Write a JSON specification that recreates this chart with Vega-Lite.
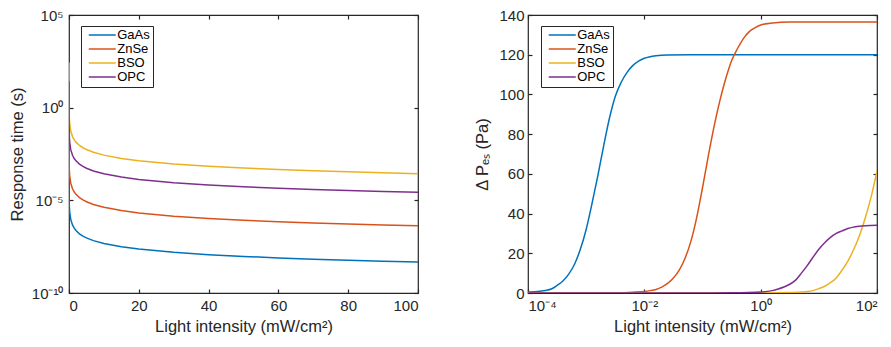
{
  "$schema": "https://vega.github.io/schema/vega-lite/v6.json",
  "padding": {"left": 8, "top": 7, "right": 5, "bottom": 5},
  "background": "white",
  "datasets": {
    "resp": [
      {"m":"GaAs","I":0.0001,"t":4.7e-3},{"m":"GaAs","I":0.0003,"t":1.567e-3},{"m":"GaAs","I":0.001,"t":4.7e-4},{"m":"GaAs","I":0.003,"t":1.567e-4},{"m":"GaAs","I":0.01,"t":4.7e-5},{"m":"GaAs","I":0.03,"t":1.567e-5},{"m":"GaAs","I":0.1,"t":4.7e-6},{"m":"GaAs","I":0.2,"t":2.35e-6},{"m":"GaAs","I":0.5,"t":9.4e-7},{"m":"GaAs","I":1,"t":4.7e-7},{"m":"GaAs","I":1.5,"t":3.13e-7},{"m":"GaAs","I":2,"t":2.35e-7},{"m":"GaAs","I":3,"t":1.567e-7},{"m":"GaAs","I":4,"t":1.175e-7},{"m":"GaAs","I":5,"t":9.4e-8},{"m":"GaAs","I":7,"t":6.71e-8},{"m":"GaAs","I":10,"t":4.7e-8},{"m":"GaAs","I":15,"t":3.13e-8},{"m":"GaAs","I":20,"t":2.35e-8},{"m":"GaAs","I":30,"t":1.567e-8},{"m":"GaAs","I":40,"t":1.175e-8},{"m":"GaAs","I":50,"t":9.4e-9},{"m":"GaAs","I":60,"t":7.83e-9},{"m":"GaAs","I":70,"t":6.71e-9},{"m":"GaAs","I":80,"t":5.88e-9},{"m":"GaAs","I":90,"t":5.22e-9},{"m":"GaAs","I":100,"t":4.7e-9},
      {"m":"ZnSe","I":0.0001,"t":0.42},{"m":"ZnSe","I":0.0003,"t":0.14},{"m":"ZnSe","I":0.001,"t":0.042},{"m":"ZnSe","I":0.003,"t":0.014},{"m":"ZnSe","I":0.01,"t":4.2e-3},{"m":"ZnSe","I":0.03,"t":1.4e-3},{"m":"ZnSe","I":0.1,"t":4.2e-4},{"m":"ZnSe","I":0.2,"t":2.1e-4},{"m":"ZnSe","I":0.5,"t":8.4e-5},{"m":"ZnSe","I":1,"t":4.2e-5},{"m":"ZnSe","I":1.5,"t":2.8e-5},{"m":"ZnSe","I":2,"t":2.1e-5},{"m":"ZnSe","I":3,"t":1.4e-5},{"m":"ZnSe","I":4,"t":1.05e-5},{"m":"ZnSe","I":5,"t":8.4e-6},{"m":"ZnSe","I":7,"t":6e-6},{"m":"ZnSe","I":10,"t":4.2e-6},{"m":"ZnSe","I":15,"t":2.8e-6},{"m":"ZnSe","I":20,"t":2.1e-6},{"m":"ZnSe","I":30,"t":1.4e-6},{"m":"ZnSe","I":40,"t":1.05e-6},{"m":"ZnSe","I":50,"t":8.4e-7},{"m":"ZnSe","I":60,"t":7e-7},{"m":"ZnSe","I":70,"t":6e-7},{"m":"ZnSe","I":80,"t":5.25e-7},{"m":"ZnSe","I":90,"t":4.67e-7},{"m":"ZnSe","I":100,"t":4.2e-7},
      {"m":"BSO","I":0.0001,"t":275},{"m":"BSO","I":0.0003,"t":91.7},{"m":"BSO","I":0.001,"t":27.5},{"m":"BSO","I":0.003,"t":9.17},{"m":"BSO","I":0.01,"t":2.75},{"m":"BSO","I":0.03,"t":0.917},{"m":"BSO","I":0.1,"t":0.275},{"m":"BSO","I":0.2,"t":0.1375},{"m":"BSO","I":0.5,"t":0.055},{"m":"BSO","I":1,"t":0.0275},{"m":"BSO","I":1.5,"t":0.01833},{"m":"BSO","I":2,"t":0.01375},{"m":"BSO","I":3,"t":9.17e-3},{"m":"BSO","I":4,"t":6.88e-3},{"m":"BSO","I":5,"t":5.5e-3},{"m":"BSO","I":7,"t":3.93e-3},{"m":"BSO","I":10,"t":2.75e-3},{"m":"BSO","I":15,"t":1.83e-3},{"m":"BSO","I":20,"t":1.375e-3},{"m":"BSO","I":30,"t":9.17e-4},{"m":"BSO","I":40,"t":6.88e-4},{"m":"BSO","I":50,"t":5.5e-4},{"m":"BSO","I":60,"t":4.58e-4},{"m":"BSO","I":70,"t":3.93e-4},{"m":"BSO","I":80,"t":3.44e-4},{"m":"BSO","I":90,"t":3.06e-4},{"m":"BSO","I":100,"t":2.75e-4},
      {"m":"OPC","I":0.0001,"t":27},{"m":"OPC","I":0.0003,"t":9},{"m":"OPC","I":0.001,"t":2.7},{"m":"OPC","I":0.003,"t":0.9},{"m":"OPC","I":0.01,"t":0.27},{"m":"OPC","I":0.03,"t":0.09},{"m":"OPC","I":0.1,"t":0.027},{"m":"OPC","I":0.2,"t":0.0135},{"m":"OPC","I":0.5,"t":5.4e-3},{"m":"OPC","I":1,"t":2.7e-3},{"m":"OPC","I":1.5,"t":1.8e-3},{"m":"OPC","I":2,"t":1.35e-3},{"m":"OPC","I":3,"t":9e-4},{"m":"OPC","I":4,"t":6.75e-4},{"m":"OPC","I":5,"t":5.4e-4},{"m":"OPC","I":7,"t":3.86e-4},{"m":"OPC","I":10,"t":2.7e-4},{"m":"OPC","I":15,"t":1.8e-4},{"m":"OPC","I":20,"t":1.35e-4},{"m":"OPC","I":30,"t":9e-5},{"m":"OPC","I":40,"t":6.75e-5},{"m":"OPC","I":50,"t":5.4e-5},{"m":"OPC","I":60,"t":4.5e-5},{"m":"OPC","I":70,"t":3.86e-5},{"m":"OPC","I":80,"t":3.38e-5},{"m":"OPC","I":90,"t":3e-5},{"m":"OPC","I":100,"t":2.7e-5}
    ],
    "pres": [
      {"m":"GaAs","I":0.0001,"p":0.5},{"m":"GaAs","I":0.000158,"p":0.9},{"m":"GaAs","I":0.0001995,"p":1.3},{"m":"GaAs","I":0.000251,"p":2.0},{"m":"GaAs","I":0.000316,"p":3.8},{"m":"GaAs","I":0.000398,"p":6.0},{"m":"GaAs","I":0.000501,"p":9.5},{"m":"GaAs","I":0.000631,"p":14.5},{"m":"GaAs","I":0.000794,"p":22},{"m":"GaAs","I":0.001,"p":32},{"m":"GaAs","I":0.001259,"p":45},{"m":"GaAs","I":0.001585,"p":59},{"m":"GaAs","I":0.001995,"p":74},{"m":"GaAs","I":0.002512,"p":88},{"m":"GaAs","I":0.003162,"p":99},{"m":"GaAs","I":0.003981,"p":106},{"m":"GaAs","I":0.005012,"p":111},{"m":"GaAs","I":0.00631,"p":114.5},{"m":"GaAs","I":0.007943,"p":116.8},{"m":"GaAs","I":0.01,"p":118.2},{"m":"GaAs","I":0.01585,"p":119.5},{"m":"GaAs","I":0.02512,"p":119.9},{"m":"GaAs","I":0.0631,"p":120},{"m":"GaAs","I":100,"p":120},
      {"m":"ZnSe","I":0.0001,"p":0},{"m":"ZnSe","I":0.001,"p":0},{"m":"ZnSe","I":0.003162,"p":0.1},{"m":"ZnSe","I":0.00631,"p":0.4},{"m":"ZnSe","I":0.01,"p":0.8},{"m":"ZnSe","I":0.01259,"p":1.2},{"m":"ZnSe","I":0.01585,"p":1.8},{"m":"ZnSe","I":0.01995,"p":3.0},{"m":"ZnSe","I":0.02512,"p":4.8},{"m":"ZnSe","I":0.03162,"p":7.5},{"m":"ZnSe","I":0.03981,"p":11.5},{"m":"ZnSe","I":0.05012,"p":17.5},{"m":"ZnSe","I":0.0631,"p":26},{"m":"ZnSe","I":0.07943,"p":38},{"m":"ZnSe","I":0.1,"p":53},{"m":"ZnSe","I":0.1259,"p":69},{"m":"ZnSe","I":0.1585,"p":84},{"m":"ZnSe","I":0.1995,"p":97},{"m":"ZnSe","I":0.2512,"p":108},{"m":"ZnSe","I":0.3162,"p":117},{"m":"ZnSe","I":0.3981,"p":123},{"m":"ZnSe","I":0.5012,"p":128},{"m":"ZnSe","I":0.631,"p":131.5},{"m":"ZnSe","I":0.7943,"p":133.5},{"m":"ZnSe","I":1,"p":135},{"m":"ZnSe","I":1.585,"p":136},{"m":"ZnSe","I":3.162,"p":136.5},{"m":"ZnSe","I":100,"p":136.5},
      {"m":"BSO","I":0.0001,"p":0},{"m":"BSO","I":1,"p":0.02},{"m":"BSO","I":1.995,"p":0.1},{"m":"BSO","I":3.162,"p":0.25},{"m":"BSO","I":5.012,"p":0.45},{"m":"BSO","I":6.31,"p":0.7},{"m":"BSO","I":7.943,"p":1.2},{"m":"BSO","I":10,"p":2.2},{"m":"BSO","I":12.59,"p":3.4},{"m":"BSO","I":15.85,"p":5.2},{"m":"BSO","I":19.95,"p":7.6},{"m":"BSO","I":25.12,"p":11.5},{"m":"BSO","I":31.62,"p":16},{"m":"BSO","I":39.81,"p":22},{"m":"BSO","I":50.12,"p":29},{"m":"BSO","I":63.1,"p":38},{"m":"BSO","I":79.43,"p":48.5},{"m":"BSO","I":100,"p":61.5},
      {"m":"OPC","I":0.0001,"p":0},{"m":"OPC","I":0.1,"p":0},{"m":"OPC","I":0.3162,"p":0.1},{"m":"OPC","I":1,"p":0.5},{"m":"OPC","I":1.585,"p":1.2},{"m":"OPC","I":1.995,"p":2.0},{"m":"OPC","I":2.512,"p":3.0},{"m":"OPC","I":3.162,"p":4.4},{"m":"OPC","I":3.981,"p":6.5},{"m":"OPC","I":5.012,"p":10},{"m":"OPC","I":6.31,"p":13.8},{"m":"OPC","I":7.943,"p":18},{"m":"OPC","I":10,"p":22},{"m":"OPC","I":12.59,"p":25.3},{"m":"OPC","I":15.85,"p":28},{"m":"OPC","I":19.95,"p":30},{"m":"OPC","I":25.12,"p":31.3},{"m":"OPC","I":31.62,"p":32.5},{"m":"OPC","I":39.81,"p":33.2},{"m":"OPC","I":63.1,"p":33.9},{"m":"OPC","I":100,"p":34.1}
    ]
  },
  "spacing": 110,
  "bounds": "flush",
  "hconcat": [
    {
      "width": 349,
      "height": 278,
      "data": {"name": "resp"},
      "layer": [
        {
          "mark": {"type": "line", "strokeWidth": 1.5, "clip": true},
          "encoding": {
            "x": {"field": "I", "type": "quantitative",
              "scale": {"domain": [0, 100], "nice": false, "zero": false},
              "axis": {"values": [0, 20, 40, 60, 80, 100], "title": "Light intensity (mW/cm²)", "labelPadding": 9, "titlePadding": 5}},
            "y": {"field": "t", "type": "quantitative",
              "scale": {"type": "log", "domain": [1e-10, 100000], "nice": false},
              "axis": {"values": [1e-10, 1e-5, 1, 100000], "labelPadding": 10, "titlePadding": 6,
                "labelExpr": "datum.value < 1e-7 ? '10⁻¹⁰' : datum.value < 0.001 ? '10⁻⁵' : datum.value < 10 ? '10⁰' : '10⁵'",
                "title": "Response time (s)"}},
            "color": {"field": "m", "type": "nominal",
              "scale": {"domain": ["GaAs", "ZnSe", "BSO", "OPC"], "range": ["#0072BD", "#D95319", "#EDB120", "#7E2F8E"]},
              "legend": {"title": null, "orient": "none", "legendX": 12, "legendY": 11, "strokeColor": "#262626", "fillColor": "white", "padding": 2.5,
                "symbolType": "M-3,0H3", "symbolSize": 81, "symbolStrokeWidth": 1.5, "symbolOffset": 12.25, "labelOffset": 8.5,
                "labelFontSize": 13, "labelColor": "#000000", "rowPadding": 0}}
          }
        },
        {
          "mark": {"type": "line", "opacity": 0},
          "encoding": {
            "x": {"field": "I", "type": "quantitative",
              "axis": {"orient": "top", "values": [0, 20, 40, 60, 80, 100], "labels": false, "title": null}},
            "y": {"field": "t", "type": "quantitative",
              "axis": {"orient": "right", "values": [1e-10, 1e-5, 1, 100000], "labels": false, "title": null}},
            "detail": {"field": "m"}
          }
        }
      ],
      "resolve": {"axis": {"x": "independent", "y": "independent"}}
    },
    {
      "width": 349,
      "height": 278,
      "data": {"name": "pres"},
      "layer": [
        {
          "mark": {"type": "line", "strokeWidth": 1.5, "clip": true, "interpolate": "monotone"},
          "encoding": {
            "x": {"field": "I", "type": "quantitative",
              "scale": {"type": "log", "domain": [0.0001, 100], "nice": false},
              "axis": {"values": [0.0001, 0.01, 1, 100], "title": "Light intensity (mW/cm²)", "labelPadding": 9, "titlePadding": 5,
                "labelExpr": "datum.value < 0.001 ? '10⁻⁴' : datum.value < 0.1 ? '10⁻²' : datum.value < 10 ? '10⁰' : '10²'"}},
            "y": {"field": "p", "type": "quantitative",
              "scale": {"domain": [0, 140], "nice": false},
              "axis": {"values": [0, 20, 40, 60, 80, 100, 120, 140], "labelPadding": 8, "titlePadding": 8,
                "title": "Δ Pₑₛ (Pa)"}},
            "color": {"field": "m", "type": "nominal",
              "scale": {"domain": ["GaAs", "ZnSe", "BSO", "OPC"], "range": ["#0072BD", "#D95319", "#EDB120", "#7E2F8E"]},
              "legend": {"title": null, "orient": "none", "legendX": 13, "legendY": 11, "strokeColor": "#262626", "fillColor": "white", "padding": 2.5,
                "symbolType": "M-3,0H3", "symbolSize": 81, "symbolStrokeWidth": 1.5, "symbolOffset": 12.25, "labelOffset": 8.5,
                "labelFontSize": 13, "labelColor": "#000000", "rowPadding": 0}}
          }
        },
        {
          "mark": {"type": "line", "opacity": 0},
          "encoding": {
            "x": {"field": "I", "type": "quantitative",
              "axis": {"orient": "top", "values": [0.0001, 0.01, 1, 100], "labels": false, "title": null}},
            "y": {"field": "p", "type": "quantitative",
              "axis": {"orient": "right", "values": [0, 20, 40, 60, 80, 100, 120, 140], "labels": false, "title": null}},
            "detail": {"field": "m"}
          }
        }
      ],
      "resolve": {"axis": {"x": "independent", "y": "independent"}}
    }
  ],
  "resolve": {"scale": {"x": "independent", "y": "independent", "color": "independent"}, "legend": {"color": "independent"}},
  "config": {
    "font": "Liberation Sans",
    "view": {"stroke": "#262626", "strokeWidth": 1.2},
    "axis": {"grid": false, "domain": false, "tickColor": "#262626", "tickSize": -4, "tickWidth": 1.2,
      "labelFont": "Liberation Sans", "labelFontSize": 15, "labelColor": "#262626",
      "titleFont": "Liberation Sans", "titleFontSize": 16.5, "titleColor": "#262626", "titleFontWeight": "normal"},
    "legend": {"labelFont": "Liberation Sans"}
  }
}
